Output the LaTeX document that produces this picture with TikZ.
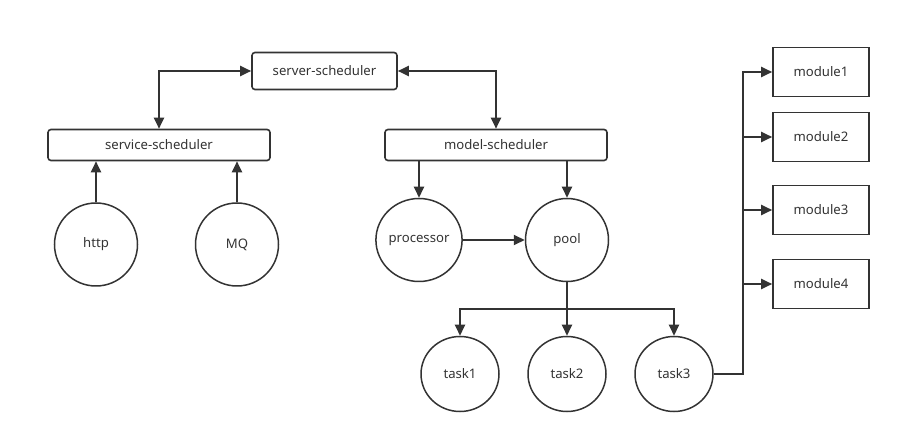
\documentclass[tikz,border=0pt]{standalone}
\usepackage{fontspec}
\setmainfont{Noto Sans}
\usetikzlibrary{arrows.meta,shapes.geometric}
\definecolor{ink}{HTML}{333333}
\begin{document}
\begin{tikzpicture}[x=1bp,y=-1bp,
  every node/.style={font=\fontsize{13.2}{15}\selectfont, text=ink},
  schedbox/.style={draw=ink, line width=1.6bp, rounded corners=3bp, minimum height=31bp, inner sep=0pt},
  modbox/.style={draw=ink, line width=1.6bp, minimum width=96bp, minimum height=49bp, inner sep=0pt},
  bigcirc/.style={ellipse, draw=ink, line width=1.5bp, minimum width=83bp, minimum height=83bp, inner sep=0pt},
  taskcirc/.style={ellipse, draw=ink, line width=1.5bp, minimum width=78bp, minimum height=75bp, inner sep=0pt},
  link/.style={draw=ink, line width=2bp},
  arr/.style={link, -{Triangle[length=11bp,width=10bp]}},
  darr/.style={link, {Triangle[length=11bp,width=10bp]}-{Triangle[length=11bp,width=10bp]}}]
  \useasboundingbox (0,0) rectangle (901,444);

  % schedulers
  \node[schedbox, minimum width=145bp, minimum height=37bp] (server) at (324.5,71) {server-scheduler};
  \node[schedbox, minimum width=222bp] (service) at (159,145) {service-scheduler};
  \node[schedbox, minimum width=222bp] (model) at (496,145) {model-scheduler};

  % inputs
  \node[bigcirc] (http) at (96,244.5) {http};
  \node[bigcirc] (mq) at (237,244.5) {MQ};

  % workers
  \node[bigcirc] (processor) at (419,240) {processor};
  \node[bigcirc] (pool) at (567,240) {pool};
  \node[taskcirc] (task1) at (460,374) {task1};
  \node[taskcirc] (task2) at (567,374) {task2};
  \node[taskcirc] (task3) at (674,374) {task3};

  % modules
  \node[modbox] (module1) at (821,72) {module1};
  \node[modbox] (module2) at (821,137) {module2};
  \node[modbox] (module3) at (821,210) {module3};
  \node[modbox] (module4) at (821,284) {module4};

  \coordinate (split) at (567,309);
  \coordinate (bus) at (743,0);

  % connectors
  \draw[darr] (service.north) |- (server.west);
  \draw[darr] (server.east) -| (model.north);
  \draw[arr] (http.north) -- (http.north |- service.south);
  \draw[arr] (mq.north) -- (mq.north |- service.south);
  \draw[arr] (model.south -| processor.north) -- (processor.north);
  \draw[arr] (model.south -| pool.north) -- (pool.north);
  \draw[arr] (processor.east) -- (pool.west);
  \draw[arr] (pool.south) -- (task2.north);
  \draw[arr] (split) -| (task1.north);
  \draw[arr] (split) -| (task3.north);
  \draw[arr] (task3.east) -| (bus |- module1.west) -- (module1.west);
  \draw[arr] (bus |- module2.west) -- (module2.west);
  \draw[arr] (bus |- module3.west) -- (module3.west);
  \draw[arr] (bus |- module4.west) -- (module4.west);
\end{tikzpicture}
\end{document}
